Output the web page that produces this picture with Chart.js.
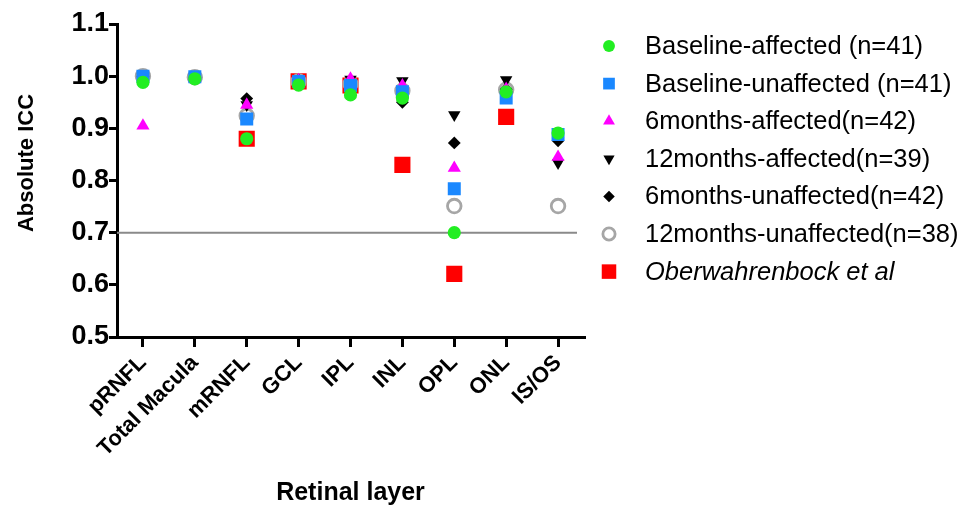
<!DOCTYPE html>
<html>
<head>
<meta charset="utf-8">
<script src="https://cdn.jsdelivr.net/npm/chart.js@4/dist/chart.umd.min.js"></script>
<style>
  html, body { margin: 0; padding: 0; background: #fff; }
  #wrap { width: 964px; height: 508px; }
</style>
</head>
<body>
<div id="wrap"><canvas id="myChart" width="964" height="508"></canvas></div>
<script>
var layers = ["pRNFL", "Total Macula", "mRNFL", "GCL", "IPL", "INL", "OPL", "ONL", "IS/OS"];
var yTicks = [0.5, 0.6, 0.7, 0.8, 0.9, 1.0, 1.1];
var refLine = 0.7;

var baselineAffected     = [0.988, 0.995, 0.880, 0.983, 0.964, 0.958, 0.700, 0.970, 0.891];
var baselineUnaffected   = [1.000, 0.999, 0.918, 0.990, 0.982, 0.970, 0.784, 0.958, 0.888];
var sixMonthsAffected    = [0.905, 0.996, 0.945, 0.992, 0.995, 0.982, 0.824, 0.975, 0.845];
var twelveMonthsAffected = [0.999, 0.998, 0.945, 0.995, 0.994, 0.991, 0.926, 0.993, 0.834];
var sixMonthsUnaffected  = [0.999, 0.998, 0.957, 0.993, 0.990, 0.950, 0.872, 0.975, 0.876];
var twelveMonthsUnaffected = [1.000, 0.998, 0.924, 0.990, 0.985, 0.972, 0.751, 0.974, 0.751];
var oberwahrenbock       = [null, null, 0.880, 0.990, 0.982, 0.830, 0.621, 0.922, null];

var FONT = "'Liberation Sans', Arial, Helvetica, sans-serif";

function series(label, data, style, color, radius, extra) {
  var ds = {
    label: label,
    data: data,
    showLine: false,
    pointStyle: style,
    pointRadius: radius,
    pointHoverRadius: radius,
    pointBackgroundColor: color,
    pointBorderColor: color,
    pointBorderWidth: 0,
    pointRotation: 0
  };
  for (var k in extra) ds[k] = extra[k];
  return ds;
}

var datasets = [
  series("Baseline-affected (n=41)", baselineAffected, "circle", "#22ee22", 6.6),
  series("Baseline-unaffected (n=41)", baselineUnaffected, "rect", "#1a88ff", 9.2),
  series("6months-affected(n=42)", sixMonthsAffected, "triangle", "#ff00ff", 7.6),
  series("12months-affected(n=39)", twelveMonthsAffected, "triangle", "#000000", 7.2, { pointRotation: 180 }),
  series("6months-unaffected(n=42)", sixMonthsUnaffected, "rectRot", "#000000", 6.4),
  series("12months-unaffected(n=38)", twelveMonthsUnaffected, "circle", "rgba(0,0,0,0)", 6.8,
    { pointBorderColor: "#a6a6a6", pointBorderWidth: 2.8 }),
  series("Oberwahrenbock et al", oberwahrenbock, "rect", "#ff0000", 11.4)
];

// grey reference line at ICC 0.7, drawn under the markers
var refLinePlugin = {
  id: "refLine",
  beforeDatasetsDraw: function (chart) {
    var ctx = chart.ctx, area = chart.chartArea;
    var y = chart.scales.y.getPixelForValue(refLine);
    ctx.save();
    ctx.strokeStyle = "#8a8a8a";
    ctx.lineWidth = 2;
    ctx.beginPath();
    ctx.moveTo(area.left, y);
    ctx.lineTo(area.right - 7, y);
    ctx.stroke();
    ctx.restore();
  }
};

// y title sits a little above the axis centre
var yTitlePlugin = {
  id: "yTitle",
  afterDraw: function (chart) {
    var ctx = chart.ctx;
    ctx.save();
    ctx.translate(27, 163);
    ctx.rotate(-Math.PI / 2);
    ctx.font = "bold 22px " + FONT;
    ctx.fillStyle = "#000";
    ctx.textAlign = "center";
    ctx.textBaseline = "middle";
    ctx.fillText("Absolute ICC", 0, 0);
    ctx.restore();
  }
};

// legend column on the right
var legendPlugin = {
  id: "sideLegend",
  afterDraw: function (chart) {
    var ctx = chart.ctx;
    var markX = 609, textX = 645, y0 = 46, step = 37.6;
    chart.data.datasets.forEach(function (ds, i) {
      var y = y0 + i * step;
      ctx.save();
      ctx.fillStyle = ds.pointBackgroundColor;
      ctx.strokeStyle = ds.pointBorderColor;
      ctx.lineWidth = ds.pointBorderWidth;
      Chart.helpers.drawPoint(ctx, {
        pointStyle: ds.pointStyle,
        radius: ds.pointRadius * 0.9,
        rotation: ds.pointRotation,
        borderWidth: ds.pointBorderWidth
      }, markX, y);
      ctx.restore();

      ctx.save();
      ctx.fillStyle = "#000";
      ctx.font = (i === datasets.length - 1 ? "italic " : "") + "25.5px " + FONT;
      ctx.textAlign = "left";
      ctx.textBaseline = "middle";
      ctx.fillText(ds.label, textX, y + 1);
      ctx.restore();
    });
  }
};

new Chart("myChart", {
  type: "line",
  data: {
    labels: layers,
    datasets: datasets
  },
  plugins: [refLinePlugin, yTitlePlugin, legendPlugin],
  options: {
    responsive: false,
    animation: false,
    events: [],
    layout: {
      padding: { top: 24, right: 380, bottom: 0, left: 0 }
    },
    plugins: {
      legend: { display: false },
      tooltip: { enabled: false }
    },
    scales: {
      x: {
        type: "category",
        offset: true,
        afterFit: function (axis) { axis.height = 171; },
        border: { color: "#000", width: 3 },
        grid: {
          offset: false,
          drawOnChartArea: false,
          color: "#000",
          lineWidth: 3,
          tickLength: 10
        },
        ticks: {
          color: "#000",
          minRotation: 45,
          maxRotation: 45,
          padding: 3,
          font: { family: FONT, size: 22, weight: "bold" }
        },
        title: {
          display: true,
          text: "Retinal layer",
          color: "#000",
          padding: { top: 0, bottom: 0 },
          font: { family: FONT, size: 25, weight: "bold" }
        }
      },
      y: {
        min: yTicks[0],
        max: yTicks[yTicks.length - 1],
        afterFit: function (axis) { axis.width = 117; },
        afterBuildTicks: function (axis) {
          axis.ticks = yTicks.map(function (v) { return { value: v }; });
        },
        border: { color: "#000", width: 3 },
        grid: {
          drawOnChartArea: false,
          color: "#000",
          lineWidth: 3,
          tickLength: 8
        },
        ticks: {
          color: "#000",
          padding: 0,
          callback: function (v) { return Number(v).toFixed(1); },
          font: { family: FONT, size: 27, weight: "bold" }
        }
      }
    }
  }
});
</script>
</body>
</html>
